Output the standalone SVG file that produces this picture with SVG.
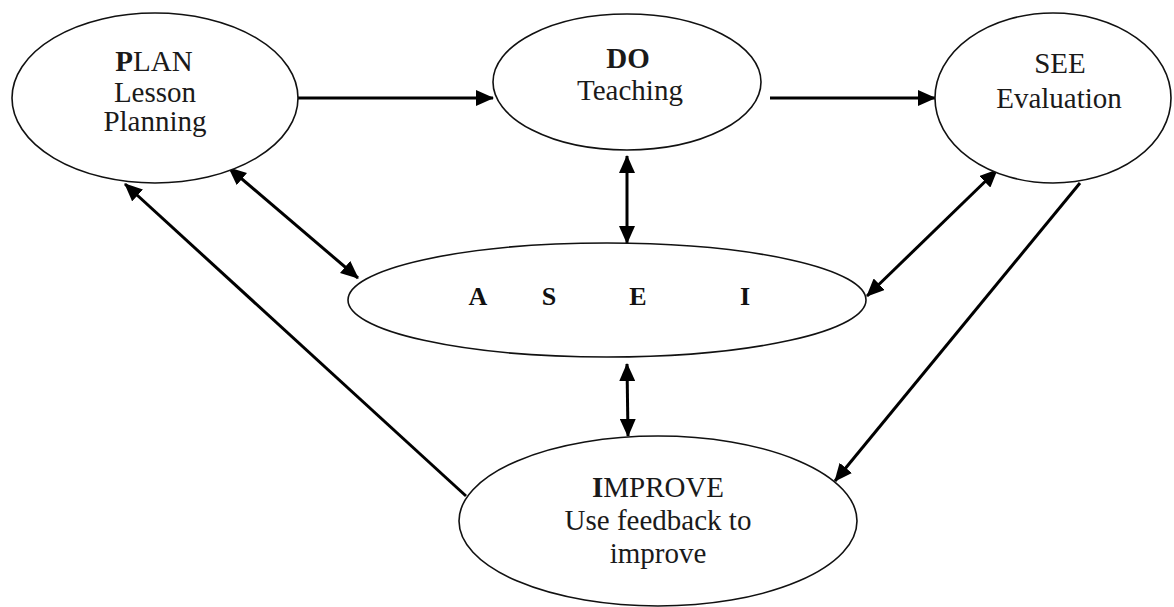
<svg xmlns="http://www.w3.org/2000/svg" width="1174" height="607" viewBox="0 0 1174 607">
<style>
.node{fill:#fff;stroke:#111;stroke-width:1.6}
.t{font-family:"Liberation Serif","DejaVu Serif",serif;font-size:29px;fill:#1a1a1a;text-anchor:middle}
.b{font-weight:bold}
.asei{font-family:"Liberation Serif","DejaVu Serif",serif;font-size:26px;font-weight:bold;fill:#111;text-anchor:middle}
.c{stroke:#000;stroke-width:3;fill:none}
</style>
<defs>
<marker id="ah" markerUnits="userSpaceOnUse" markerWidth="18" markerHeight="16" refX="17" refY="8" orient="auto-start-reverse" viewBox="0 0 18 16">
<path d="M0,0 L18,8 L0,16 z" fill="#000"/>
</marker>
</defs>
<rect width="1174" height="607" fill="#fff"/>
<g id="connectors">
<line class="c" x1="297" y1="98" x2="493" y2="98" marker-end="url(#ah)"/>
<line class="c" x1="770" y1="98" x2="935" y2="98" marker-end="url(#ah)"/>
<line class="c" x1="627" y1="156" x2="627" y2="243" marker-start="url(#ah)" marker-end="url(#ah)"/>
<line class="c" x1="229" y1="168" x2="358" y2="278" marker-start="url(#ah)" marker-end="url(#ah)"/>
<line class="c" x1="466" y1="496" x2="125" y2="184" marker-end="url(#ah)"/>
<line class="c" x1="997" y1="170" x2="867" y2="296" marker-start="url(#ah)" marker-end="url(#ah)"/>
<line class="c" x1="1080" y1="183" x2="835" y2="481" marker-end="url(#ah)"/>
<line class="c" x1="627" y1="364" x2="628" y2="436" marker-start="url(#ah)" marker-end="url(#ah)"/>
</g>
<g id="plan">
<ellipse class="node" cx="155" cy="98" rx="143" ry="85"/>
<text class="t" x="154" y="71"><tspan class="b">P</tspan>LAN</text>
<text class="t" x="155" y="102">Lesson</text>
<text class="t" x="155" y="131">Planning</text>
</g>
<g id="do">
<ellipse class="node" cx="627" cy="82" rx="134" ry="68"/>
<text class="t b" x="628" y="68">DO</text>
<text class="t" x="630" y="100">Teaching</text>
</g>
<g id="see">
<ellipse class="node" cx="1053" cy="98" rx="118" ry="85"/>
<text class="t" x="1060" y="73">SEE</text>
<text class="t" x="1059" y="108">Evaluation</text>
</g>
<g id="asei">
<ellipse class="node" cx="607" cy="300" rx="259" ry="57"/>
<text class="asei" x="478" y="305">A</text>
<text class="asei" x="549" y="305">S</text>
<text class="asei" x="638" y="305">E</text>
<text class="asei" x="745" y="305">I</text>
</g>
<g id="improve">
<ellipse class="node" cx="658" cy="521" rx="199" ry="85"/>
<text class="t" x="658" y="497"><tspan class="b">I</tspan>MPROVE</text>
<text class="t" x="658" y="530">Use feedback to</text>
<text class="t" x="658" y="563">improve</text>
</g>
</svg>
